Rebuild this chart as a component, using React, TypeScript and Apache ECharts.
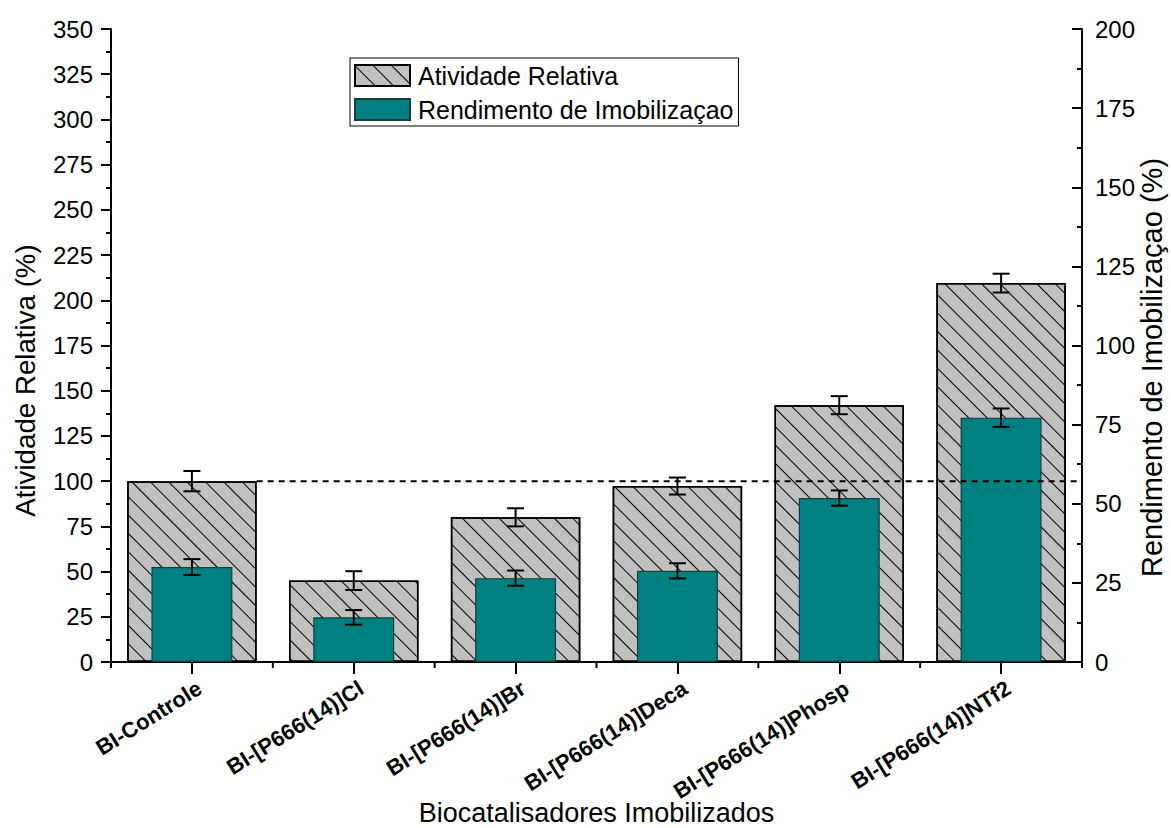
import React, { useEffect, useRef } from "react";
import * as echarts from "echarts";

const categories = [
  "BI-Controle",
  "BI-[P666(14)]Cl",
  "BI-[P666(14)]Br",
  "BI-[P666(14)]Deca",
  "BI-[P666(14)]Phosp",
  "BI-[P666(14)]NTf2",
];
const atividade = [100, 45, 80, 97.3, 142, 209.5];
const atividadeErr = [5.6, 5.2, 5, 4.7, 5, 5.2];
const rendimento = [30, 14.1, 26.5, 28.8, 51.8, 77.2];
const rendimentoErr = [2.5, 2.3, 2.4, 2.4, 2.4, 2.9];
const referenceValue = 100;
const leftMax = 350;
const rightMax = 200;
const tickStep = 25;

const FONT = "'Liberation Sans', Arial, Helvetica, sans-serif";

function errorRender(params: any, api: any) {
  const i = api.value(0);
  const v = api.value(1);
  const e = api.value(2);
  const hi = api.coord([i, v + e]);
  const lo = api.coord([i, v - e]);
  const half = 8.5;
  const style = { stroke: "#000", lineWidth: 2 };
  return {
    type: "group",
    children: [
      { type: "line", shape: { x1: hi[0], y1: hi[1], x2: lo[0], y2: lo[1] }, style },
      { type: "line", shape: { x1: hi[0] - half, y1: hi[1], x2: hi[0] + half, y2: hi[1] }, style },
      { type: "line", shape: { x1: lo[0] - half, y1: lo[1], x2: lo[0] + half, y2: lo[1] }, style },
    ],
  };
}

function refLineRender(params: any, api: any) {
  const p = api.coord([api.value(0), api.value(1)]);
  const bw = api.size([1, 0])[0];
  const cs = params.coordSys;
  return {
    type: "line",
    shape: { x1: p[0] + bw * 0.4, y1: p[1], x2: cs.x + cs.width, y2: p[1] },
    style: { stroke: "#000", lineWidth: 2, lineDash: [6, 5] },
  };
}

function minorTickRender(params: any, api: any) {
  const i = api.value(0);
  const p = api.coord([i, 0]);
  const bw = api.size([1, 0])[0];
  const cs = params.coordSys;
  const y0 = cs.y + cs.height;
  const style = { stroke: "#000", lineWidth: 2 };
  const children: any[] = [
    { type: "line", shape: { x1: p[0] - bw / 2, y1: y0, x2: p[0] - bw / 2, y2: y0 + 6 }, style },
  ];
  if (i === categories.length - 1) {
    children.push({ type: "line", shape: { x1: p[0] + bw / 2, y1: y0, x2: p[0] + bw / 2, y2: y0 + 6 }, style });
  }
  return { type: "group", children };
}

export default function App() {
  const ref = useRef<HTMLDivElement>(null);
  useEffect(() => {
    if (!ref.current) return;
    const chart = echarts.init(ref.current, null, { renderer: "svg" });
    chart.setOption({
      animation: false,
      backgroundColor: "#fff",
      textStyle: { fontFamily: FONT },
      grid: { left: 111, right: 89, top: 29, bottom: 166, containLabel: false, outerBoundsMode: "none" },
      legend: {
        data: ["Atividade Relativa", "Rendimento de Imobilizaçao"],
        orient: "vertical",
        left: 350,
        top: 58,
        icon: "rect",
        itemWidth: 55,
        itemHeight: 21,
        itemGap: 9,
        borderColor: "#000",
        borderWidth: 1,
        padding: [5, 5, 4, 4],
        textStyle: { fontSize: 25, color: "#000", fontFamily: FONT, padding: [0, 0, 0, 3] },
      },
      xAxis: [
        {
          type: "category",
          data: categories,
          position: "bottom",
          axisLine: { show: true, lineStyle: { color: "#000", width: 2 } },
          axisTick: { show: true, alignWithLabel: true, length: 12, lineStyle: { color: "#000", width: 2 } },
          axisLabel: {
            rotate: 32,
            margin: 29,
            fontSize: 22,
            fontWeight: "bold",
            color: "#000",
            fontFamily: FONT,
            interval: 0,
            padding: [0, -9, 0, 0],
          },
          name: "Biocatalisadores Imobilizados",
          nameLocation: "middle",
          nameGap: 137,
          nameMoveOverlap: false,
          nameTextStyle: { fontSize: 27, color: "#000", fontFamily: FONT },
        },
        {
          type: "category",
          data: categories,
          position: "top",
          axisLine: { show: true, lineStyle: { color: "#000", width: 2 } },
          axisTick: { show: false },
          axisLabel: { show: false },
        },
      ],
      yAxis: [
        {
          type: "value",
          min: 0,
          max: leftMax,
          interval: tickStep,
          position: "left",
          axisLine: { show: true, lineStyle: { color: "#000", width: 2 } },
          axisTick: { show: true, inside: false, length: 10, lineStyle: { color: "#000", width: 2 } },
          minorTick: { show: true, splitNumber: 2, length: 5, lineStyle: { color: "#000", width: 2 } },
          splitLine: { show: false },
          axisLabel: { fontSize: 24, color: "#000", margin: 18, fontFamily: FONT },
          name: "Atividade Relativa (%)",
          nameLocation: "middle",
          nameRotate: 90,
          nameGap: 72,
          nameMoveOverlap: false,
          nameTextStyle: { fontSize: 27.7, color: "#000", fontFamily: FONT, padding: [0, 70, 0, 0] },
        },
        {
          type: "value",
          min: 0,
          max: rightMax,
          interval: tickStep,
          position: "right",
          axisLine: { show: true, lineStyle: { color: "#000", width: 2 } },
          axisTick: { show: true, inside: true, length: 10, lineStyle: { color: "#000", width: 2 } },
          minorTick: { show: true, splitNumber: 2, length: 5, lineStyle: { color: "#000", width: 2 } },
          splitLine: { show: false },
          axisLabel: { fontSize: 24, color: "#000", margin: 13, fontFamily: FONT },
          name: "Rendimento de Imobilizaçao (%)",
          nameLocation: "middle",
          nameRotate: 90,
          nameGap: 55,
          nameMoveOverlap: false,
          nameTextStyle: { fontSize: 29, color: "#000", fontFamily: FONT, padding: [0, 44, 0, 0] },
        },
      ],
      series: [
        {
          name: "Atividade Relativa",
          type: "bar",
          xAxisIndex: 0,
          yAxisIndex: 0,
          barWidth: "80%",
          data: atividade,
          itemStyle: {
            color: "#c0c0c0",
            borderColor: "#000",
            borderWidth: 1.5,
            decal: {
              symbol: "rect",
              symbolSize: 1,
              color: "#000",
              dashArrayX: [1, 0],
              dashArrayY: [1, 12],
              rotation: Math.PI / 4,
            },
          },
          z: 2,
        },
        {
          name: "Rendimento de Imobilizaçao",
          type: "bar",
          xAxisIndex: 1,
          yAxisIndex: 1,
          barWidth: "50%",
          data: rendimento,
          itemStyle: { color: "#008080", borderColor: "#163c3c", borderWidth: 1.2 },
          z: 3,
        },
        {
          name: "refLine",
          type: "custom",
          xAxisIndex: 0,
          yAxisIndex: 0,
          renderItem: refLineRender,
          data: [[0, referenceValue]],
          z: 4,
          silent: true,
        },
        {
          name: "errA",
          type: "custom",
          xAxisIndex: 0,
          yAxisIndex: 0,
          renderItem: errorRender,
          data: atividade.map((v, i) => [i, v, atividadeErr[i]]),
          z: 5,
          silent: true,
        },
        {
          name: "errR",
          type: "custom",
          xAxisIndex: 1,
          yAxisIndex: 1,
          renderItem: errorRender,
          data: rendimento.map((v, i) => [i, v, rendimentoErr[i]]),
          z: 5,
          silent: true,
        },
        {
          name: "minorTicks",
          type: "custom",
          xAxisIndex: 0,
          yAxisIndex: 0,
          renderItem: minorTickRender,
          clip: false,
          data: categories.map((_, i) => [i, 0]),
          z: 6,
          silent: true,
        },
      ],
    });
    return () => chart.dispose();
  }, []);
  return <div ref={ref} style={{ width: 1171, height: 828, position: "absolute", left: 0, top: 0 }} />;
}
